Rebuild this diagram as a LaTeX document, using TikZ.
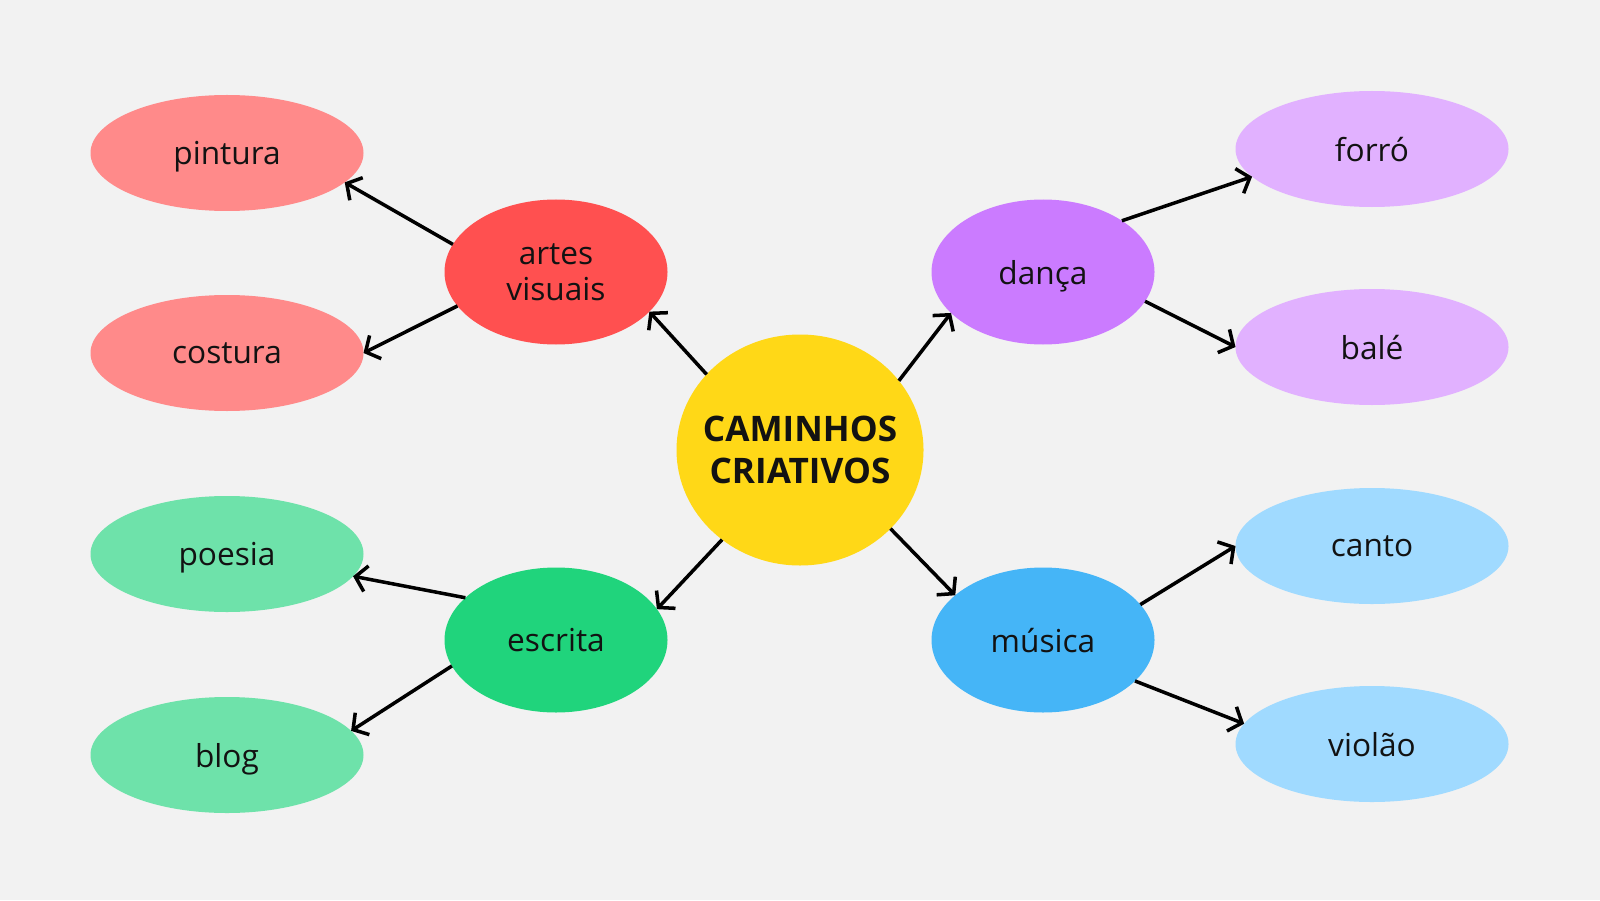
\documentclass[tikz,border=0pt]{standalone}
\usepackage{fontspec}
\setmainfont{Open Sans}
\usepackage{xcolor}
\usepackage{tikz}
\usetikzlibrary{arrows.meta, shapes.geometric}
\definecolor{bgGray}{HTML}{F2F2F2}
\definecolor{hubYellow}{HTML}{FFD817}
\definecolor{artRed}{HTML}{FF5050}
\definecolor{artLeaf}{HTML}{FF8A8A}
\definecolor{danPurple}{HTML}{CB7BFF}
\definecolor{danLeaf}{HTML}{E1B1FF}
\definecolor{escGreen}{HTML}{20D47C}
\definecolor{escLeaf}{HTML}{6EE2AA}
\definecolor{musBlue}{HTML}{45B5F7}
\definecolor{musLeaf}{HTML}{A0DAFF}
\tikzset{
hub/.style = {ellipse, fill=hubYellow, minimum width=2.47cm, minimum height=2.31cm,
              inner sep=0pt, outer sep=0pt,
              font=\fontsize{10}{12}\selectfont\bfseries}
}
\tikzset{
branch/.style = {ellipse, fill=#1, minimum width=2.23cm, minimum height=1.45cm,
                 inner sep=0pt, outer sep=0pt, align=center, text depth=0pt,
                 font=\fontsize{9}{10.2}\selectfont}
}
\tikzset{
leaf/.style = {ellipse, fill=#1, minimum width=2.73cm, minimum height=1.16cm,
               inner sep=0pt, outer sep=0pt, text depth=0pt,
               font=\fontsize{9}{9.9}\selectfont}
}

\begin{document}
\begin{tikzpicture}[>={Straight Barb[length=1.1mm, width=2.6mm]}, line width=1pt, text=black!93]

    \fill[bgGray] (0,0) rectangle (16,9);
    \useasboundingbox (0,0) rectangle (16,9);

    \node[hub] (hub) at (8,4.5) {\raisebox{-3.6pt}[0pt][0pt]{\makebox[0pt]{\begin{tabular}{@{}c@{}}CAMINHOS\\CRIATIVOS\end{tabular}}}};

    \node[branch=artRed, text depth=-1.4pt] (artes) at (5.56,6.28) {artes\\visuais};
    \node[branch=danPurple] (danca) at (10.43,6.28) {dança};
    \node[branch=escGreen] (escrita) at (5.56,2.60) {escrita};
    \node[branch=musBlue] (musica) at (10.43,2.60) {música};

    \node[leaf=artLeaf] (pintura) at (2.27,7.47) {pintura};
    \node[leaf=artLeaf] (costura) at (2.27,5.47) {costura};
    \node[leaf=escLeaf] (poesia) at (2.27,3.46) {poesia};
    \node[leaf=escLeaf] (blog) at (2.27,1.45) {blog};
    \node[leaf=danLeaf] (forro) at (13.72,7.51) {forró};
    \node[leaf=danLeaf] (bale) at (13.72,5.53) {balé};
    \node[leaf=musLeaf] (canto) at (13.72,3.54) {canto};
    \node[leaf=musLeaf] (violao) at (13.72,1.56) {violão};

\draw[->]  (hub.141) -- (artes.-23);
\draw[->]  (hub.35) -- (danca.-156);
\draw[->]  (hub.-131) -- (escrita.17);
\draw[->]  (hub.-41) -- (musica.153);
\draw[->]  (artes.165) -- (pintura.-14);
\draw[->]  (artes.-161) -- (costura.0);
\draw[->]  (escrita.155) -- (poesia.-10);
\draw[->]  (escrita.-166) -- (blog.11);
\draw[->]  (danca.33) -- (forro.193);
\draw[->]  (danca.-16) -- (bale.180);
\draw[->]  (musica.20) -- (canto.180);
\draw[->]  (musica.-24) -- (violao.171);
\end{tikzpicture}
\end{document}
